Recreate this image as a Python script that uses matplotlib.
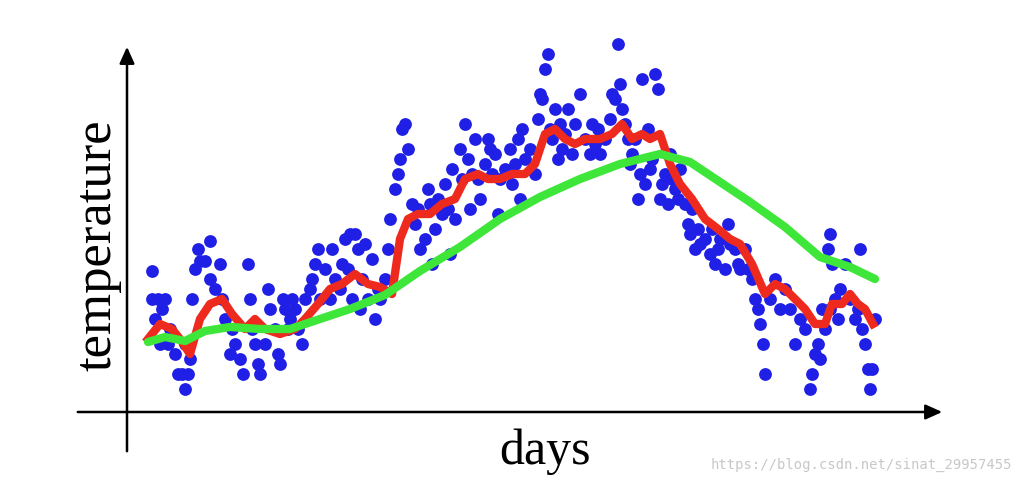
import matplotlib.pyplot as plt

# coordinates (x right, y down)
dots_x = [152,152,155,158,162,165,160,168,170,175,178,182,185,188,190,185,192,195,198,200,205,210,210,215,220,222,225,230,232,235,240,243,248,250,252,255,258,260,265,268,270,275,278,280,283,285,288,290,
          292,295,298,302,305,310,312,315,318,320,325,330,332,335,340,342,345,348,350,352,355,358,360,362,365,368,372,375,378,380,385,388,390,395,398,400,402,405,408,412,415,418,420,425,428,430,432,435,438,442,445,448,450,452,455,460,462,465,468,470,472,475,478,480,485,488,490,492,495,498,500,505,510,512,515,518,520,522,525,530,535,538,540,542,545,548,550,552,555,558,560,562,565,568,572,575,580,585,590,592,595,598,600,605,610,612,615,618,620,622,625,628,630,632,635,638,640,642,645,648,650,652,655,658,660,662,665,668,670,672,675,678,680,685,688,690,692,695,698,700,705,710,712,715,718,720,725,728,730,735,738,740,745,748,752,755,758,760,763,765,770,775,780,785,790,795,800,805,810,812,815,818,820,822,825,828,830,832,835,838,840,845,850,855,858,860,862,865,868,870,872,875,830]
dots_y = [272,300,320,300,310,300,345,345,330,355,375,375,390,375,360,345,300,270,250,262,262,242,280,290,265,300,320,355,330,345,360,375,265,300,330,345,365,375,345,290,310,330,355,365,300,310,330,320,
          300,310,330,345,300,290,280,265,250,300,270,300,250,280,290,265,240,270,235,300,235,250,310,280,245,300,260,320,290,300,280,250,220,190,175,160,130,125,150,205,225,210,250,240,190,205,265,230,200,215,185,210,255,170,220,150,180,125,160,210,175,140,180,200,165,140,150,175,155,215,180,170,150,185,165,140,200,130,160,150,175,120,95,100,70,55,130,140,110,160,125,150,135,110,155,125,95,140,155,125,145,130,155,140,120,95,100,45,85,110,125,140,165,155,140,200,175,80,185,130,170,160,75,90,200,185,175,205,155,180,190,200,170,205,225,235,210,250,230,245,240,255,230,265,250,240,270,225,245,250,265,270,250,270,280,300,310,325,345,375,300,280,310,290,310,345,320,330,390,375,355,345,360,310,330,250,235,265,300,320,290,265,300,320,310,250,330,345,370,390,370,320,310]

red_x = [148,160,172,180,190,200,210,222,232,245,255,265,280,295,305,318,330,342,355,368,380,392,400,408,418,430,442,455,465,478,488,500,512,525,535,545,555,565,575,585,600,612,622,632,642,650,660,670,680,692,705,718,730,740,752,765,775,785,795,805,815,825,832,842,850,858,865,873]
red_y = [340,325,330,340,355,320,305,300,315,330,320,330,335,330,320,305,290,285,275,285,288,295,240,220,215,215,205,200,180,175,180,180,175,175,165,135,130,140,145,140,140,135,125,140,135,140,135,165,185,200,220,230,240,245,265,295,285,290,300,310,325,325,305,305,295,305,310,325]

green_x = [148,165,185,205,230,260,290,320,350,385,420,460,500,540,580,620,660,690,720,750,785,820,850,875]
green_y = [343,338,342,332,328,330,330,320,310,296,272,248,220,198,180,165,155,163,183,203,228,258,268,280]

fig = plt.figure(figsize=(10.25, 4.85), dpi=100)
ax = fig.add_axes([0, 0, 1, 1])
ax.set_xlim(0, 1025)
ax.set_ylim(485, 0)
ax.axis("off")

ax.scatter(dots_x, dots_y, s=85, color="#1f1fe6", zorder=2, linewidths=0)
ax.plot(red_x, red_y, color="#ee2a1e", lw=6, zorder=3, solid_joinstyle="round")
ax.plot(green_x, green_y, color="#3ee63a", lw=6, zorder=4, solid_capstyle="round")

arrow = dict(arrowstyle="-|>,head_length=1.0,head_width=0.45", color="black", lw=1.8)
ax.annotate("", xy=(945, 413), xytext=(75, 413), arrowprops=arrow)
ax.annotate("", xy=(127, 45), xytext=(127, 455), arrowprops=arrow)

ax.text(545, 452, "days", fontsize=36, family="Liberation Serif", ha="center", va="center")
ax.text(98, 245, "temperature", fontsize=38, family="Liberation Serif",
        rotation=90, ha="center", va="center")
ax.text(1012, 465, "https://blog.csdn.net/sinat_29957455", fontsize=10,
        color="#c8c8c8", ha="right", va="center", family="DejaVu Sans Mono")

fig.savefig("out.png", dpi=100)
